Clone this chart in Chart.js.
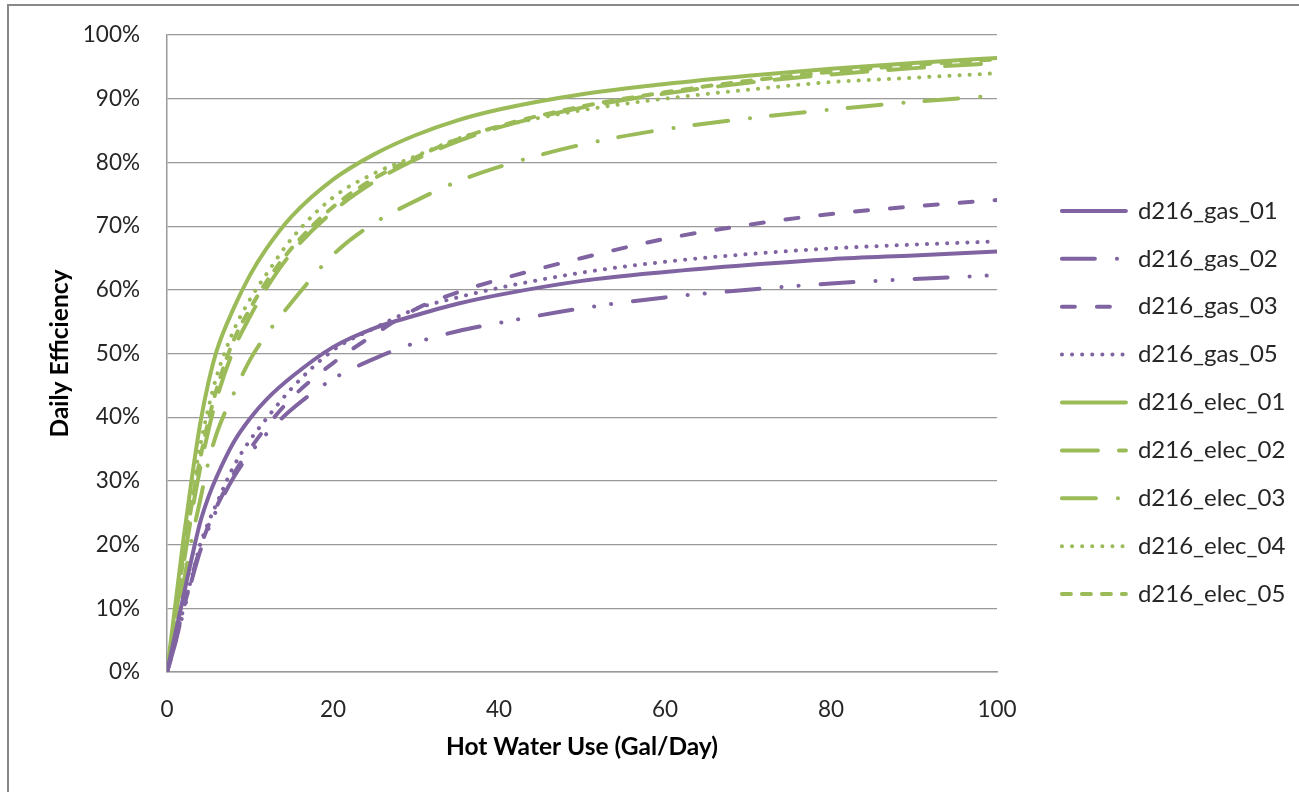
<!DOCTYPE html>
<html>
<head>
<meta charset="utf-8">
<script src="https://cdn.jsdelivr.net/npm/chart.js@4.4.1/dist/chart.umd.min.js"></script>
<style>
    html, body { margin: 0; padding: 0; background: #fff; }
    #wrap { position: relative; width: 1299px; height: 792px; overflow: hidden; }
    #frame { position: absolute; left: 7px; top: 4px; width: 1400px; height: 900px;
             border-top: 2px solid #888; border-left: 2px solid #888; pointer-events: none; }
</style>
</head>
<body>
<div id="wrap">
    <canvas id="efficiency-chart" width="1299" height="792"></canvas>
    <div id="frame"></div>
</div>
<script>
// Hot water use (gal/day) where each curve was read
const hotWater = [0, 1, 2, 3, 4, 5, 6, 8, 10, 12, 15, 20, 25, 30, 35, 40, 50, 60, 70, 80, 90, 100];

// Daily efficiency (%) per unit
const gas01  = [0, 6, 12, 18, 23.5, 27.5, 30.7, 36, 39.8, 42.8, 46.3, 51, 54, 56, 57.8, 59.2, 61.4, 62.8, 63.9, 64.8, 65.4, 66];
const gas02  = [0, 4.5, 9.5, 14.5, 19, 22.5, 25.5, 30.5, 34.3, 37.4, 41.2, 46, 49.2, 51.7, 53.5, 54.8, 57.1, 58.8, 60, 61, 61.7, 62.3];
const gas03  = [0, 4.5, 10, 15, 19.5, 23, 26, 31, 35, 38.5, 43, 48.5, 53, 57, 59.6, 61.6, 65, 68, 70.2, 71.9, 73.1, 74.1];
const gas05  = [0, 5, 10, 15, 20, 23.5, 26.5, 32.2, 36.4, 39.8, 44.5, 50.5, 54, 57, 58.8, 60.3, 62.7, 64.4, 65.6, 66.5, 67.1, 67.6];
const elec01 = [0, 10.5, 21, 30.5, 39, 45.5, 50.5, 57, 62.3, 66.5, 71.5, 77.3, 81.3, 84.3, 86.6, 88.3, 90.7, 92.3, 93.6, 94.7, 95.6, 96.4];
const elec02 = [0, 8.5, 17, 25, 32, 38, 43, 50.5, 55.8, 60.3, 65.8, 72.3, 77, 80.5, 83.3, 85.5, 88.6, 90.8, 92.5, 93.8, 94.8, 95.6];
const elec03 = [0, 7, 14, 21, 27, 33, 37.5, 43.6, 49, 53, 58, 65.5, 70.5, 74, 77, 79.3, 82.8, 85.2, 86.9, 88.3, 89.5, 90.5];
const elec04 = [0, 9.5, 19, 28, 35.5, 41.5, 46.5, 53.5, 58.5, 62.5, 68, 74.5, 78.3, 81, 83.7, 85.6, 88.2, 90, 91.4, 92.6, 93.3, 94];
const elec05 = [0, 9, 18, 26.5, 33.5, 39.5, 44.5, 52, 57, 61.3, 66.5, 73, 77.5, 80.8, 83.6, 85.7, 88.8, 91, 92.8, 94.2, 95.3, 96.2];

const purple = '#8064A2';
const green = '#9BBB59';

// line styles (round caps, so dots are tiny dashes)
const solid = [];
const longDashDotDot = [33, 22, 0.1, 17, 0.1, 22];
const dash = [13, 22];
const roundDot = [0.1, 10];
const longDash = [36, 21];
const longDashDot = [34, 22, 0.1, 21];
const shortDash = [9, 11];

function serie(label, values, color, pattern) {
    return {
        label: label,
        data: hotWater.map((x, i) => ({ x: x, y: values[i] })),
        borderColor: color,
        backgroundColor: color,
        borderWidth: 4,
        borderDash: pattern,
        borderCapStyle: 'round',
        borderJoinStyle: 'round',
        pointRadius: 0,
        pointStyle: 'line',
        cubicInterpolationMode: 'monotone',
        fill: false
    };
}

// Excel-like placement of the legend block
const legendPlacement = {
    id: 'legendPlacement',
    beforeLayout(chart) {
        const lg = chart.legend;
        if (lg && !lg._widthPatched) {
            const fit = lg.fit;
            lg.fit = function() { fit.call(this); this.width = 302; };
            lg._widthPatched = true;
        }
    },
    afterLayout(chart) {
        const lg = chart.legend;
        lg.left = 1038;
        lg.right = 1038 + 280;
        lg.top = 175;
        lg.bottom = 792;
    }
};

const gray = '#999999';
const textColor = '#262626';

new Chart(document.getElementById('efficiency-chart'), {
    type: 'line',
    data: {
        datasets: [
            serie('d216_gas_01', gas01, purple, solid),
            serie('d216_gas_02', gas02, purple, longDashDotDot),
            serie('d216_gas_03', gas03, purple, dash),
            serie('d216_gas_05', gas05, purple, roundDot),
            serie('d216_elec_01', elec01, green, solid),
            serie('d216_elec_02', elec02, green, longDash),
            serie('d216_elec_03', elec03, green, longDashDot),
            serie('d216_elec_04', elec04, green, roundDot),
            serie('d216_elec_05', elec05, green, shortDash)
        ]
    },
    plugins: [legendPlacement],
    options: {
        responsive: false,
        animation: false,
        events: [],
        layout: { padding: { left: 10, top: 35, right: 0, bottom: 0 } },
        plugins: {
            legend: {
                position: 'right',
                align: 'start',
                labels: {
                    usePointStyle: true,
                    pointStyleWidth: 64,
                    padding: 23.9,
                    color: textColor,
                    font: { family: 'Lato', size: 24 },
                    generateLabels(chart) {
                        const items = Chart.defaults.plugins.legend.labels.generateLabels(chart);
                        items.forEach(item => {
                            const ds = chart.data.datasets[item.datasetIndex];
                            item.lineDash = ds.borderDash;
                            item.lineCap = 'round';
                            item.lineWidth = 4;
                        });
                        return items;
                    }
                }
            },
            tooltip: { enabled: false }
        },
        scales: {
            x: {
                type: 'linear',
                min: 0,
                max: 100,
                ticks: {
                    stepSize: 20,
                    padding: 16,
                    color: textColor,
                    font: { family: 'Lato', size: 22.5 }
                },
                grid: { display: false },
                border: { display: true, color: gray, width: 1.5 },
                title: {
                    display: true,
                    text: 'Hot Water Use (Gal/Day)',
                    color: '#000',
                    font: { family: 'Lato', size: 24.5, weight: 'bold' },
                    padding: { top: 0, bottom: 30.3 }
                },
                afterFit(scale) { scale.height = 120; }
            },
            y: {
                min: 0,
                max: 100,
                ticks: {
                    stepSize: 10,
                    padding: 27,
                    color: textColor,
                    font: { family: 'Lato', size: 22.5 },
                    callback: v => v + '%'
                },
                grid: { color: gray, lineWidth: 1.2, drawTicks: false },
                border: { display: true, color: gray, width: 1.5 },
                title: {
                    display: true,
                    text: 'Daily Efficiency',
                    color: '#000',
                    font: { family: 'Lato', size: 24.5, weight: 'bold' },
                    padding: { top: 35.3, bottom: 0 }
                },
                afterFit(scale) {
                    scale.width = 157;
                    scale.paddingTop = 0;
                    scale.paddingBottom = 0;
                }
            }
        }
    }
});
</script>
</body>
</html>
